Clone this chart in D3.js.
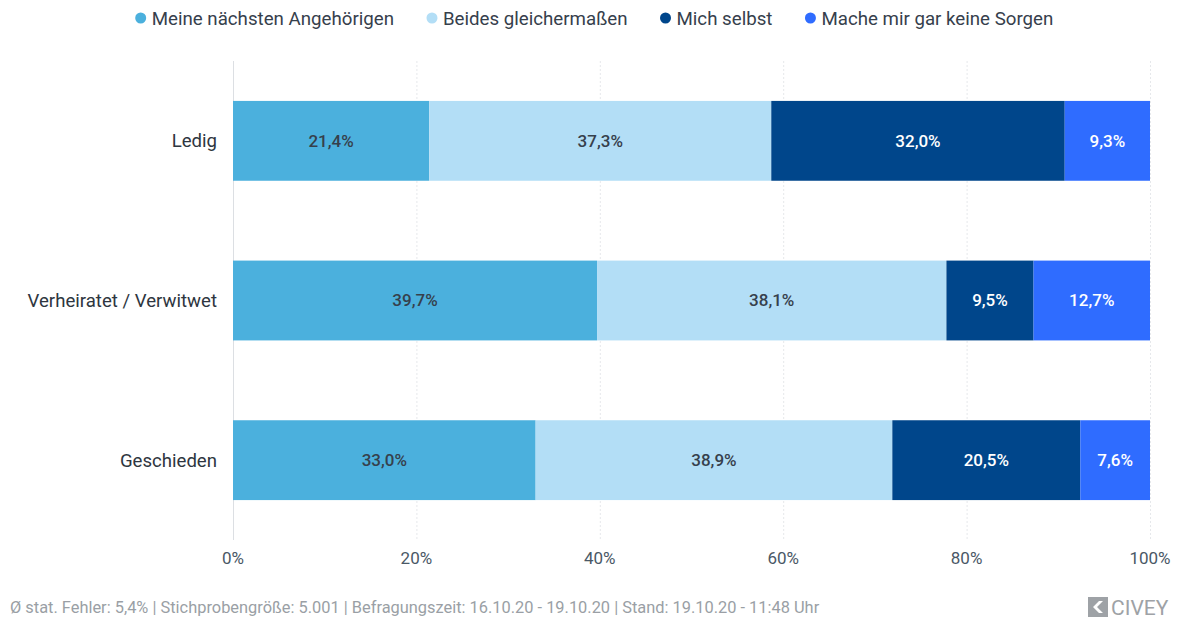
<!DOCTYPE html>
<html>
<head>
<meta charset="utf-8">
<script src="https://cdn.jsdelivr.net/npm/d3@7"></script>
<style>
  body { margin: 0; background: #fff; }
  svg { font-family: Roboto, "Noto Sans", sans-serif; }
</style>
</head>
<body>
<svg id="chart" width="1182" height="619"></svg>
<script>
// categories, top to bottom
const categories = ["Ledig", "Verheiratet / Verwitwet", "Geschieden"];

// series names (legend order)
const seriesNames = ["Meine nächsten Angehörigen", "Beides gleichermaßen", "Mich selbst", "Mache mir gar keine Sorgen"];
const seriesColors = ["#4bb0dd", "#b3def6", "#00468b", "#2f6cff"];
const labelColors = ["#36404c", "#36404c", "#ffffff", "#ffffff"];

// values per series, one per category
const angehoerige = [21.4, 39.7, 33.0];
const beides = [37.3, 38.1, 38.9];
const selbst = [32.0, 9.5, 20.5];
const keineSorgen = [9.3, 12.7, 7.6];

const tickValues = [0, 20, 40, 60, 80, 100];

const footerText = "Ø stat. Fehler: 5,4% | Stichprobengröße: 5.001 | Befragungszeit: 16.10.20 - 19.10.20 | Stand: 19.10.20 - 11:48 Uhr";

const svg = d3.select("#chart");
const margin = {left: 233, right: 32, top: 61, bottom: 79};
const W = 1182, H = 619;

const x = d3.scaleLinear().domain([0, 100]).range([margin.left, W - margin.right]);
const y = d3.scaleBand().domain(categories).range([margin.top, H - margin.bottom]).paddingInner(0.5).paddingOuter(0.25);

// gridlines
svg.append("g").selectAll("line")
  .data(tickValues)
  .join("line")
  .attr("x1", d => x(d) + 0.5).attr("x2", d => x(d) + 0.5)
  .attr("y1", margin.top).attr("y2", H - margin.bottom)
  .attr("stroke", d => d === 0 ? "#dcdfe3" : "#e6e8eb")
  .attr("stroke-dasharray", d => d === 0 ? null : "2,2");

// tick labels
svg.append("g").selectAll("text")
  .data(tickValues)
  .join("text")
  .attr("x", d => x(d)).attr("y", 564)
  .attr("text-anchor", "middle")
  .attr("fill", "#4a5866")
  .style("font-size", "17px")
  .text(d => d + "%");

// stack
const rows = categories.map((c, i) => ({cat: c, values: [angehoerige[i], beides[i], selbst[i], keineSorgen[i]]}));
rows.forEach(r => {
  let acc = 0;
  r.segs = r.values.map((v, k) => { const s = {k: k, x0: acc, x1: acc + v, v: v, cat: r.cat}; acc += v; return s; });
});

const segs = rows.flatMap(r => r.segs);
const fmt = v => d3.format(".1f")(v).replace(".", ",") + "%";

svg.append("g").selectAll("rect")
  .data(segs)
  .join("rect")
  .attr("x", d => x(d.x0))
  .attr("width", d => x(d.x1) - x(d.x0))
  .attr("y", d => y(d.cat))
  .attr("height", y.bandwidth())
  .attr("fill", d => seriesColors[d.k]);

svg.append("g").selectAll("text")
  .data(segs)
  .join("text")
  .attr("x", d => (x(d.x0) + x(d.x1)) / 2)
  .attr("y", d => y(d.cat) + y.bandwidth() / 2)
  .attr("dy", "0.35em")
  .attr("text-anchor", "middle")
  .attr("fill", d => labelColors[d.k])
  .style("font-size", "17px")
  .style("font-weight", 500)
  .text(d => fmt(d.v));

// category labels
svg.append("g").selectAll("text")
  .data(categories)
  .join("text")
  .attr("x", 217)
  .attr("y", d => y(d) + y.bandwidth() / 2)
  .attr("dy", "0.35em")
  .attr("text-anchor", "end")
  .attr("fill", "#2e3640")
  .style("font-size", "18.6px")
  .text(d => d);

// legend
const legend = svg.append("g");
const items = legend.selectAll("g")
  .data(seriesNames)
  .join("g");
items.append("circle").attr("r", 5.5).attr("cx", 0).attr("cy", 18).attr("fill", (d, i) => seriesColors[i]);
items.append("text").attr("x", 11).attr("y", 18).attr("dy", "0.35em")
  .attr("fill", "#36404c").style("font-size", "18.7px").text(d => d);
const gap = 38;
let lx = 0;
const widths = [];
items.each(function () { widths.push(this.querySelector("text").getComputedTextLength() + 11); });
items.attr("transform", (d, i) => { const t = lx; lx += widths[i] + gap; return "translate(" + t + ",0)"; });
const total = lx - gap;
legend.attr("transform", "translate(" + (594 - total / 2 + 3) + ",0)");

// footer
svg.append("text")
  .attr("x", 10).attr("y", 613)
  .attr("fill", "#9a9fa5")
  .style("font-size", "16.4px")
  .text(footerText);

// logo
const logo = svg.append("g").attr("transform", "translate(1088,597)");
logo.append("rect").attr("width", 20).attr("height", 20).attr("fill", "#9ea2a6");
logo.append("path").attr("d", "M15,4 L9,10 L15,16 L11,16 L5,10 L11,4 Z").attr("fill", "#fff");
logo.append("text").attr("x", 23).attr("y", 18)
  .attr("fill", "#9ea2a6").style("font-size", "21px").text("CIVEY");
</script>
</body>
</html>
